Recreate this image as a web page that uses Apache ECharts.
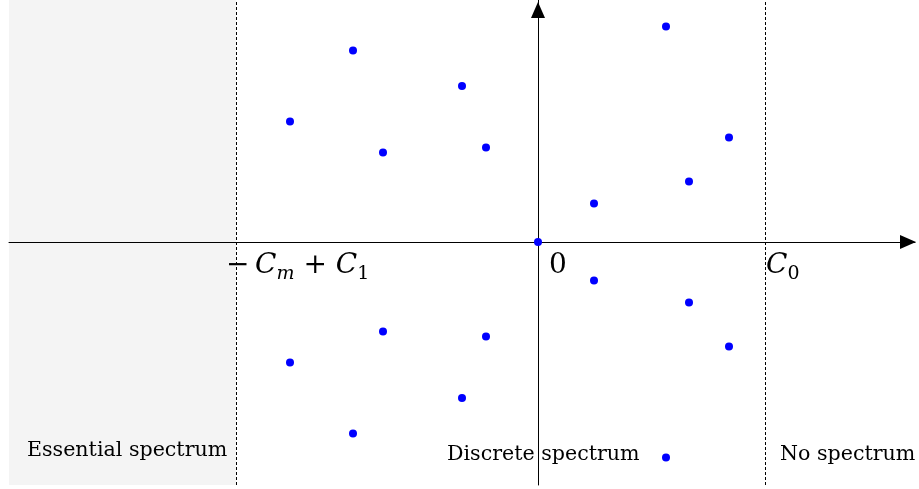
<!DOCTYPE html>
<html>
<head>
<meta charset="utf-8">
<script src="https://cdn.jsdelivr.net/npm/echarts@6/dist/echarts.min.js"></script>
<style>
  html, body { margin: 0; padding: 0; background: #fff; }
  #chart { width: 919px; height: 489px; }
</style>
</head>
<body>
<div id="chart"></div>
<script>
// eigenvalue positions (x, y), upper half-plane and their conjugates
let pointsX = [-1.85, -2.48, -1.55, -0.76, -0.52, 0.56, 1.28, 1.51, 1.91]
let pointsY = [1.915, 1.205, 0.895, 1.56, 0.945, 0.385, 2.155, 0.605, 1.045]
let essentialEdge = -3.02   // -C_m + C_1
let c0 = 2.27               // C_0
let xMin = -5.29, xMax = 3.77
let yMin = -2.43, yMax = 2.42

let points = [[0, 0]]
for (let i = 0; i < pointsX.length; i++) {
  points.push([pointsX[i], pointsY[i]])
  points.push([pointsX[i], -pointsY[i]])
}

let serif = 'DejaVu Serif'

let chart = echarts.init(document.getElementById('chart'))
chart.setOption({
  animation: false,
  grid: { left: 9, right: 4, top: 0, bottom: 4 },
  xAxis: {
    type: 'value', min: xMin, max: xMax, z: 5,
    axisLine: { onZero: true, symbol: ['none', 'triangle'], symbolSize: [14, 16], symbolOffset: [0, -7],
      lineStyle: { color: '#000', width: 1 } },
    axisTick: { show: false }, axisLabel: { show: false }, splitLine: { show: false }
  },
  yAxis: {
    type: 'value', min: yMin, max: yMax, z: 5,
    axisLine: { onZero: true, symbol: ['none', 'triangle'], symbolSize: [14, 16], symbolOffset: [0, -10],
      lineStyle: { color: '#000', width: 1 } },
    axisTick: { show: false }, axisLabel: { show: false }, splitLine: { show: false }
  },
  series: [{
    type: 'scatter',
    data: [],
    z: 0,
    markArea: {
      silent: true,
      itemStyle: { color: '#f4f4f4' },
      data: [[{ xAxis: xMin, yAxis: yMin }, { xAxis: essentialEdge, yAxis: yMax }]]
    },
    markLine: {
      silent: true,
      symbol: 'none',
      label: { show: false },
      lineStyle: { color: '#000', width: 1, type: [3, 2] },
      data: [{ xAxis: essentialEdge }, { xAxis: c0 }]
    }
  }, {
    type: 'scatter',
    data: points,
    symbolSize: 8,
    itemStyle: { color: '#0000ff', opacity: 1 },
    z: 10
  }],
  graphic: [
    { type: 'text', left: 226, top: 252, z: 100, style: {
      text: '−\u2009{i|C}{s|m} + {i|C}{n|1}',
      fontSize: 28, fontFamily: serif, fill: '#000',
      rich: { i: { fontStyle: 'italic', fontSize: 28, fontFamily: serif },
              s: { fontStyle: 'italic', fontSize: 19, fontFamily: serif, padding: [16, 0, 0, 0] },
              n: { fontSize: 19, fontFamily: serif, padding: [16, 0, 0, 0] } }
    } },
    { type: 'text', left: 549, top: 252, z: 100, style: { text: '0', fontSize: 28, fontFamily: serif, fill: '#000' } },
    { type: 'text', left: 766, top: 252, z: 100, style: {
      text: '{i|C}{n|0}', fontSize: 28, fontFamily: serif, fill: '#000',
      rich: { i: { fontStyle: 'italic', fontSize: 28, fontFamily: serif },
              n: { fontSize: 19, fontFamily: serif, padding: [16, 0, 0, 0] } }
    } },
    { type: 'text', left: 27, top: 440, z: 100, style: { text: 'Essential spectrum', fontSize: 20.6, fontFamily: serif, fill: '#000' } },
    { type: 'text', left: 447, top: 444, z: 100, style: { text: 'Discrete spectrum', fontSize: 20.6, fontFamily: serif, fill: '#000' } },
    { type: 'text', left: 780, top: 444, z: 100, style: { text: 'No spectrum', fontSize: 20.6, fontFamily: serif, fill: '#000' } }
  ]
})
</script>
</body>
</html>
